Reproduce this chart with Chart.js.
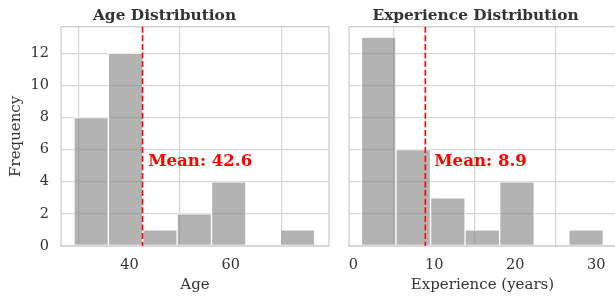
<!DOCTYPE html>
<html>
<head>
<meta charset="utf-8">
<script src="https://cdn.jsdelivr.net/npm/chart.js@4.4.0/dist/chart.umd.min.js"></script>
<style>
  html, body { margin: 0; padding: 0; background: #fff; overflow: hidden; width: 615px; height: 300px; }
  .box { position: absolute; top: 0; height: 300px; }
  #b1 { left: 0; width: 335px; }
  #b2 { left: 335px; width: 281px; }
</style>
</head>
<body>
<div class="box" id="b1"><canvas id="c1"></canvas></div>
<div class="box" id="b2"><canvas id="c2"></canvas></div>
<script>
// ---- data ----
const ageBinEdges = [29.05, 35.84, 42.63, 49.42, 56.21, 63.0, 69.79, 76.58];
const ageCounts   = [8, 12, 1, 2, 4, 0, 1];
const ageMean     = 42.6;
const ageTicks    = [40, 60];

const expBinEdges = [1.0, 5.27, 9.54, 13.81, 18.08, 22.35, 26.62, 30.89];
const expCounts   = [13, 6, 3, 1, 4, 0, 1];
const expMean     = 8.9;
const expTicks    = [0, 10, 20, 30];

const freqTicks   = [0, 2, 4, 6, 8, 10, 12];

// ---- style ----
const FONT = "'DejaVu Serif', serif";
const GRID = '#d5d5d5';
const SPINE = '#cccccc';
const TEXT = '#333333';
const BAR = 'rgba(128,128,128,0.6)';

function histData(edges, counts) {
  return counts.map((c, i) => ({ x: (edges[i] + edges[i + 1]) / 2, y: c }));
}

const framePlugin = {
  id: 'frame',
  afterDraw(chart, args, opts) {
    const { ctx, chartArea: a, scales } = chart;
    ctx.save();
    // spines
    ctx.strokeStyle = SPINE;
    ctx.lineWidth = 1.25;
    ctx.strokeRect(a.left, a.top, a.right - a.left, a.bottom - a.top);
    // mean line
    const xp = scales.x.getPixelForValue(opts.mean);
    ctx.strokeStyle = '#ff0000';
    ctx.lineWidth = 1.6;
    ctx.setLineDash([6, 2.6]);
    ctx.beginPath();
    ctx.moveTo(xp, a.top);
    ctx.lineTo(xp, a.bottom);
    ctx.stroke();
    ctx.setLineDash([]);
    // mean label
    ctx.fillStyle = '#ff0000';
    ctx.font = "bold 16.6px " + FONT;
    ctx.textBaseline = 'alphabetic';
    ctx.textAlign = 'left';
    ctx.fillText(opts.label, scales.x.getPixelForValue(opts.mean + 1.1), scales.y.getPixelForValue(5.0));
    ctx.restore();
  }
};

function makeChart(id, cfg) {
  return new Chart(document.getElementById(id), {
    type: 'bar',
    data: {
      datasets: [{
        data: histData(cfg.edges, cfg.counts),
        backgroundColor: BAR,
        borderColor: '#ffffff',
        borderWidth: 1,
        barPercentage: 1,
        categoryPercentage: 1,
        borderSkipped: false
      }]
    },
    options: {
      responsive: true,
      maintainAspectRatio: false,
      animation: false,
      layout: { padding: { left: 0, right: cfg.padRight, top: 0, bottom: 0 } },
      plugins: {
        legend: { display: false },
        tooltip: { enabled: false },
        title: {
          display: true,
          text: cfg.title,
          color: TEXT,
          font: { family: FONT, size: 15.4, weight: 'bold', lineHeight: 1.2 },
          padding: { top: 6.5, bottom: 1.7 }
        },
        frame: { mean: cfg.mean, label: cfg.meanLabel }
      },
      scales: {
        x: {
          type: 'linear',
          offset: false,
          min: cfg.xmin,
          max: cfg.xmax,
          afterBuildTicks: s => { s.ticks = cfg.ticks.map(v => ({ value: v })); },
          afterFit: s => { s.height = 54; },
          grid: { color: GRID, lineWidth: 1.25, drawTicks: false },
          border: { display: false },
          ticks: { color: TEXT, font: { family: FONT, size: 14.5 }, padding: 10.5, maxRotation: 0 },
          title: { display: true, text: cfg.xTitle, color: TEXT, font: { family: FONT, size: 15, lineHeight: 1.2 }, padding: { top: 0, bottom: 5.5 } }
        },
        y: {
          min: 0,
          max: 13.65,
          afterBuildTicks: s => { s.ticks = freqTicks.map(v => ({ value: v })); },
          afterFit: s => { s.width = cfg.yWidth; },
          grid: { color: GRID, lineWidth: 1.25, drawTicks: false },
          border: { display: false },
          ticks: { display: cfg.showY, color: TEXT, font: { family: FONT, size: 14.5 }, padding: 12 },
          title: { display: cfg.showY, text: 'Frequency', color: TEXT, font: { family: FONT, size: 15, lineHeight: 1.2 }, padding: { top: 7, bottom: 0 } }
        }
      }
    },
    plugins: [framePlugin]
  });
}

makeChart('c1', {
  edges: ageBinEdges, counts: ageCounts, mean: ageMean, meanLabel: 'Mean: ' + ageMean.toFixed(1),
  title: 'Age Distribution', xTitle: 'Age', ticks: ageTicks, xmin: 26.5, xmax: 79.4,
  yWidth: 61, showY: true, padRight: 6
});
makeChart('c2', {
  edges: expBinEdges, counts: expCounts, mean: expMean, meanLabel: 'Mean: ' + expMean.toFixed(1),
  title: 'Experience Distribution', xTitle: 'Experience (years)', ticks: expTicks, xmin: -0.53, xmax: 32.45,
  yWidth: 14, showY: false, padRight: 0
});
</script>
</body>
</html>
